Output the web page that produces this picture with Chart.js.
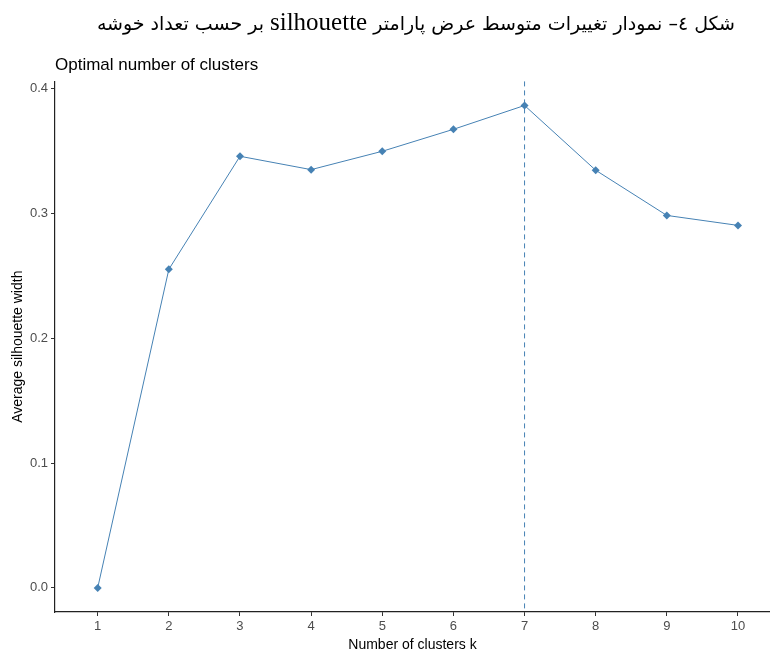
<!DOCTYPE html>
<html>
<head>
<meta charset="utf-8">
<script src="https://cdn.jsdelivr.net/npm/chart.js@4/dist/chart.umd.min.js"></script>
<style>
  html, body { margin: 0; padding: 0; background: #fff; overflow: hidden; }
  #wrap { position: relative; width: 770px; height: 660px; }
  #caption {
    position: absolute; top: 8px; right: 35px; width: 700px;
    direction: rtl; text-align: right;
    font-family: 'DejaVu Sans', serif;
    font-size: 19px; color: #000; white-space: nowrap;
  }
  #caption span { font-family: 'Liberation Serif', serif; font-size: 25px; }
</style>
</head>
<body>
<div id="wrap">
  <div id="caption">شکل ٤– نمودار تغییرات متوسط عرض پارامتر <span>silhouette</span> بر حسب تعداد خوشه</div>
  <canvas id="chart" width="770" height="660"></canvas>
</div>
<script>
// data
const clusterCounts = [1, 2, 3, 4, 5, 6, 7, 8, 9, 10];
const silhouetteWidths = [0, 0.2553, 0.3459, 0.3352, 0.3499, 0.3675, 0.3866, 0.3347, 0.2985, 0.2905];
const yTicks = [0, 0.1, 0.2, 0.3, 0.4];
const optimalK = 7;

const STEEL = '#4682B4';
const tickFont = { family: "'Liberation Sans', Arial, sans-serif", size: 13 };

// vertical dashed line at the optimal k
const optimalLine = {
  id: 'optimalLine',
  afterDatasetsDraw(chart) {
    const { ctx, chartArea, scales } = chart;
    const x = scales.x.getPixelForValue(optimalK);
    ctx.save();
    ctx.strokeStyle = STEEL;
    ctx.lineWidth = 1;
    ctx.setLineDash([5, 4]);
    ctx.beginPath();
    ctx.moveTo(x, chartArea.top);
    ctx.lineTo(x, chartArea.bottom);
    ctx.stroke();
    ctx.restore();
  }
};

new Chart(document.getElementById('chart'), {
  type: 'line',
  data: {
    datasets: [{
      data: clusterCounts.map((k, i) => ({ x: k, y: silhouetteWidths[i] })),
      borderColor: STEEL,
      backgroundColor: STEEL,
      borderWidth: 1,
      pointStyle: 'rectRot',
      pointRadius: 4,
      pointBorderWidth: 0,
      tension: 0
    }]
  },
  options: {
    responsive: false,
    animation: false,
    layout: { autoPadding: false, padding: { top: 53, left: 0, right: 0, bottom: 0 } },
    plugins: {
      legend: { display: false },
      tooltip: { enabled: false },
      title: {
        display: true,
        text: 'Optimal number of clusters',
        align: 'start',
        fullSize: false,
        color: '#000',
        font: { family: "'Liberation Sans', Arial, sans-serif", size: 17, weight: 'normal' },
        padding: { top: 2, bottom: 6 }
      }
    },
    scales: {
      x: {
        type: 'linear',
        min: 0.4,
        max: 10.45,
        afterBuildTicks: s => { s.ticks = clusterCounts.map(v => ({ value: v })); },
        afterFit: s => { s.height = 48; },
        grid: { display: true, drawOnChartArea: false, drawTicks: true, tickLength: 4, tickColor: '#333' },
        border: { display: true, color: '#222', width: 1.2 },
        ticks: { color: '#4d4d4d', font: tickFont, padding: 3, maxRotation: 0 },
        title: {
          display: true, text: 'Number of clusters k', color: '#000',
          font: { family: "'Liberation Sans', Arial, sans-serif", size: 14 },
          padding: { top: 0, bottom: 6 }
        }
      },
      y: {
        min: -0.0193,
        max: 0.4059,
        afterBuildTicks: s => { s.ticks = yTicks.map(v => ({ value: v })); },
        afterFit: s => { s.width = 55; },
        grid: { display: true, drawOnChartArea: false, drawTicks: true, tickLength: 4, tickColor: '#333' },
        border: { display: true, color: '#222', width: 1.2 },
        ticks: { color: '#4d4d4d', font: tickFont, padding: 3, callback: v => v.toFixed(1) },
        title: {
          display: true, text: 'Average silhouette width', color: '#000',
          font: { family: "'Liberation Sans', Arial, sans-serif", size: 14 },
          padding: { top: 10, bottom: 0 }
        }
      }
    }
  },
  plugins: [optimalLine]
});
</script>
</body>
</html>
